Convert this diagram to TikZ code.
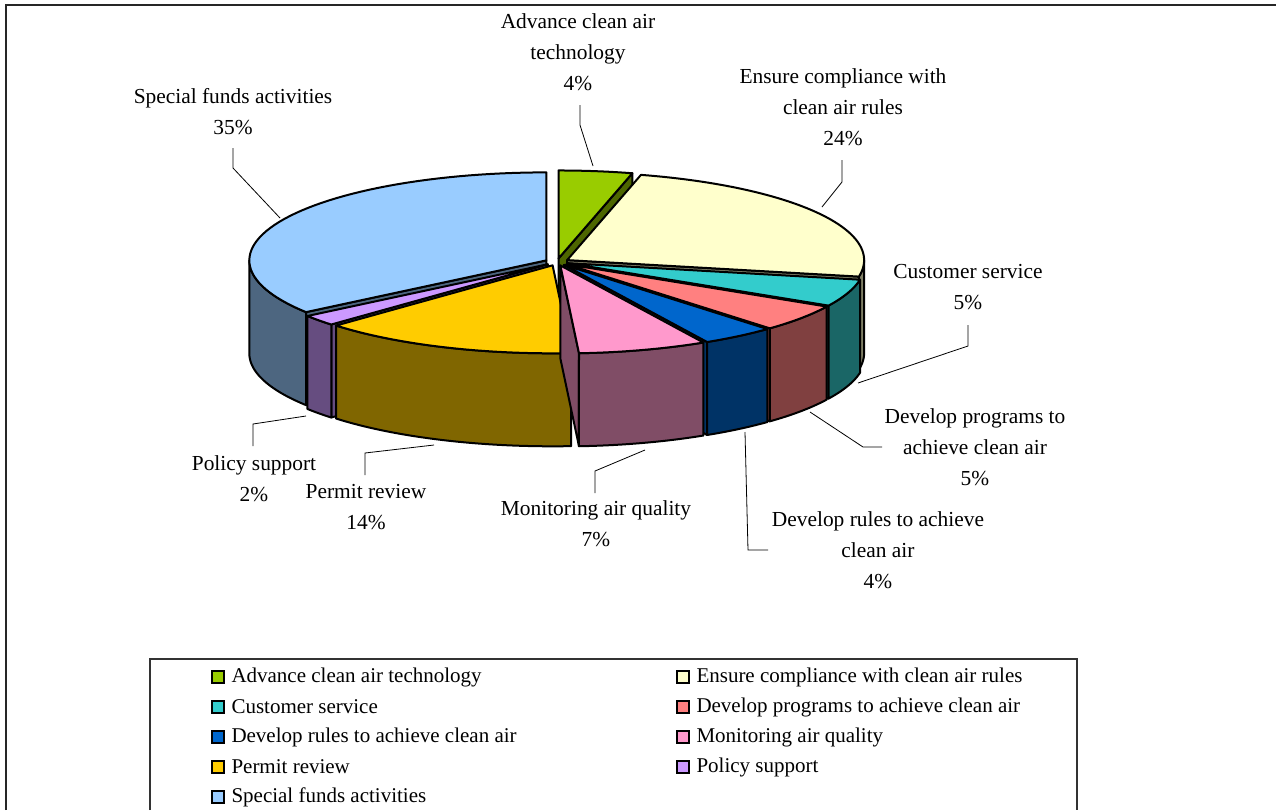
\documentclass[tikz,border=0pt]{standalone}
\usepackage{fontspec}
\setmainfont{Liberation Serif}
\usetikzlibrary{positioning}

\definecolor{advtop}{RGB}{153,204,0}
\definecolor{advside}{RGB}{77,102,0}
\definecolor{enstop}{RGB}{255,255,204}
\definecolor{ensside}{RGB}{128,128,102}
\definecolor{custop}{RGB}{51,204,204}
\definecolor{cusside}{RGB}{26,102,102}
\definecolor{prgtop}{RGB}{255,128,128}
\definecolor{prgside}{RGB}{128,64,64}
\definecolor{rultop}{RGB}{0,102,204}
\definecolor{rulside}{RGB}{0,51,102}
\definecolor{montop}{RGB}{255,153,204}
\definecolor{monside}{RGB}{128,77,102}
\definecolor{pertop}{RGB}{255,204,0}
\definecolor{perside}{RGB}{128,102,0}
\definecolor{poltop}{RGB}{204,153,255}
\definecolor{polside}{RGB}{102,77,128}
\definecolor{spftop}{RGB}{153,204,255}
\definecolor{spfside}{RGB}{77,102,128}

% pie centre, radii, height, explosion (pixels)
\def\pcx{557}
\def\pcy{262}
\def\pa{297}
\def\pb{88}
\def\ph{93}
\def\pex{12}

\newcommand{\drawslice}[4]{%
  \pgfmathsetmacro{\smid}{(#1+#2)/2}%
  \pgfmathsetmacro{\sx}{\pcx+\pex*sin(\smid)}%
  \pgfmathsetmacro{\sy}{\pcy-\pex*\pb/\pa*cos(\smid)}%
  \pgfmathtruncatemacro{\vs}{((#1>180)&&(#1<360))?1:0}%
  \pgfmathtruncatemacro{\ve}{((#2>0)&&(#2<180))?1:0}%
  \pgfmathsetmacro{\wa}{max(#1,90)}%
  \pgfmathsetmacro{\wb}{min(#2,270)}%
  \pgfmathtruncatemacro{\vw}{(\wa<\wb)?1:0}%
  \ifnum\vs=1
    \filldraw[face,fill=#4] (\sx,\sy) -- ({\sx+\pa*sin(#1)},{\sy-\pb*cos(#1)}) -- ++(0,\ph) -- (\sx,\sy+\ph) -- cycle;
  \fi
  \ifnum\ve=1
    \filldraw[face,fill=#4] (\sx,\sy) -- ({\sx+\pa*sin(#2)},{\sy-\pb*cos(#2)}) -- ++(0,\ph) -- (\sx,\sy+\ph) -- cycle;
  \fi
  \ifnum\vw=1
    \filldraw[face,fill=#4] plot[domain=\wa:\wb,samples=40] ({\sx+\pa*sin(\x)},{\sy-\pb*cos(\x)})
      -- plot[domain=\wb:\wa,samples=40] ({\sx+\pa*sin(\x)},{\sy-\pb*cos(\x)+\ph}) -- cycle;
  \fi
  \filldraw[face,fill=#3] (\sx,\sy) -- plot[domain=#1:#2,samples=60] ({\sx+\pa*sin(\x)},{\sy-\pb*cos(\x)}) -- cycle;
}

\begin{document}
\begin{tikzpicture}[x=0.5pt,y=-0.5pt,
  lbl/.style={align=center,inner sep=0pt,font=\fontsize{10.7}{15.6}\selectfont},
  leader/.style={draw=black,line width=0.4pt},
  face/.style={draw=black,line width=1pt,line join=round},
  legmark/.style={draw=black,line width=0.9pt,minimum width=6.2pt,minimum height=5.8pt,inner sep=0pt},
  legtext/.style={inner sep=0pt,anchor=west,font=\fontsize{10.5}{12}\selectfont}]
\useasboundingbox (0,0) rectangle (1276,810);
\draw[line width=1pt,black!85] (6,810) -- (6,5) -- (1276,5);

% slices, back to front
\drawslice{0}{14.4}{advtop}{advside}
\drawslice{14.4}{100.8}{enstop}{ensside}
\drawslice{234}{360}{spftop}{spfside}
\drawslice{100.8}{118.8}{custop}{cusside}
\drawslice{118.8}{136.8}{prgtop}{prgside}
\drawslice{226.8}{234}{poltop}{polside}
\drawslice{136.8}{151.2}{rultop}{rulside}
\drawslice{176.4}{226.8}{pertop}{perside}
\drawslice{151.2}{176.4}{montop}{monside}

% labels
\node[lbl] (advlbl) at (578,52) {Advance clean air\\technology\\4\%};
\node[lbl] (enslbl) at (843,107) {Ensure compliance with\\clean air rules\\24\%};
\node[lbl] (cuslbl) at (968,287) {Customer service\\5\%};
\node[lbl] (prglbl) at (975,447) {Develop programs to\\achieve clean air\\5\%};
\node[lbl] (rullbl) at (878,550) {Develop rules to achieve\\clean air\\4\%};
\node[lbl] (monlbl) at (596,524) {Monitoring air quality\\7\%};
\node[lbl] (perlbl) at (366,507) {Permit review\\14\%};
\node[lbl] (pollbl) at (254,479) {Policy support\\2\%};
\node[lbl] (spflbl) at (233,112) {Special funds activities\\35\%};

% leader lines
\coordinate (advA) at (580,105); \coordinate (advB) at (580,125); \coordinate (advC) at (593,166);
\coordinate (ensA) at (842,160); \coordinate (ensB) at (842,182); \coordinate (ensC) at (822,207);
\coordinate (cusA) at (968,325); \coordinate (cusB) at (968,346); \coordinate (cusC) at (858,383);
\coordinate (prgA) at (882,447); \coordinate (prgB) at (863,447); \coordinate (prgC) at (810,412);
\coordinate (rulA) at (768,550); \coordinate (rulB) at (748,550); \coordinate (rulC) at (745,432);
\coordinate (monA) at (595,493); \coordinate (monB) at (595,471); \coordinate (monC) at (645,450);
\coordinate (perA) at (365,475); \coordinate (perB) at (365,453); \coordinate (perC) at (434,445);
\coordinate (polA) at (253,446); \coordinate (polB) at (253,424); \coordinate (polC) at (306,416);
\coordinate (spfA) at (233,148); \coordinate (spfB) at (233,168); \coordinate (spfC) at (280,218);
\foreach \s in {adv,ens,cus,prg,rul,mon,per,pol,spf}
  \draw[leader] (\s A) -- (\s B) -- (\s C);

% legend
\draw[line width=0.6pt,black!80] (150,810) -- (150,659) -- (1077,659) -- (1077,810);
\node[legmark,fill=advtop] (lm1) at (218,677) {};
\node[legtext,right=3pt of lm1] (lt1) {Advance clean air technology};
\node[legmark,fill=enstop] (lm2) at (683,677) {};
\node[legtext,right=3pt of lm2] (lt2) {Ensure compliance with clean air rules};
\node[legmark,fill=custop] (lm3) at (218,707) {};
\node[legtext,right=3pt of lm3] (lt3) {Customer service};
\node[legmark,fill=prgtop] (lm4) at (683,707) {};
\node[legtext,right=3pt of lm4] (lt4) {Develop programs to achieve clean air};
\node[legmark,fill=rultop] (lm5) at (218,737) {};
\node[legtext,right=3pt of lm5] (lt5) {Develop rules to achieve clean air};
\node[legmark,fill=montop] (lm6) at (683,737) {};
\node[legtext,right=3pt of lm6] (lt6) {Monitoring air quality};
\node[legmark,fill=pertop] (lm7) at (218,767) {};
\node[legtext,right=3pt of lm7] (lt7) {Permit review};
\node[legmark,fill=poltop] (lm8) at (683,767) {};
\node[legtext,right=3pt of lm8] (lt8) {Policy support};
\node[legmark,fill=spftop] (lm9) at (218,797) {};
\node[legtext,right=3pt of lm9] (lt9) {Special funds activities};
\end{tikzpicture}
\end{document}
